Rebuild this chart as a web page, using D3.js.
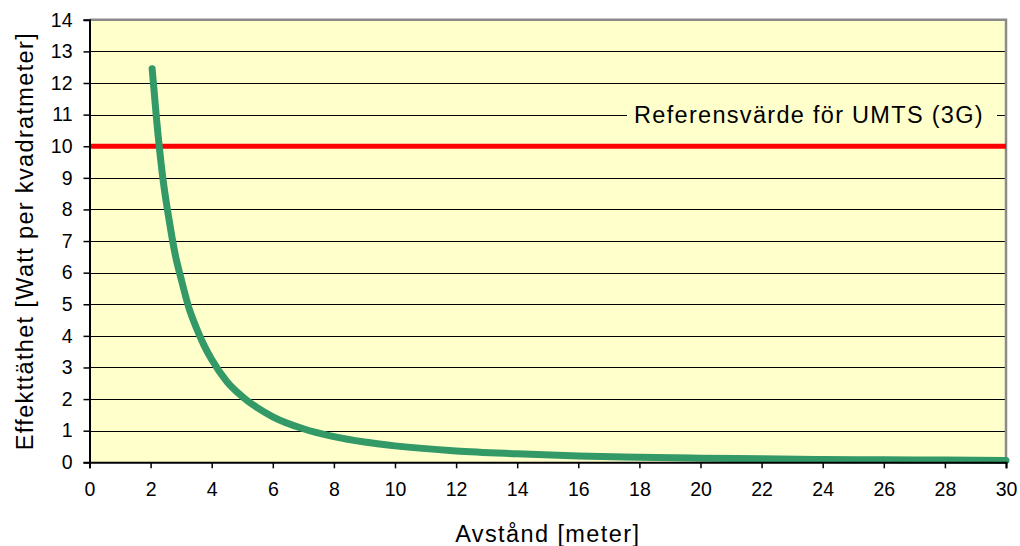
<!DOCTYPE html>
<html>
<head>
<meta charset="utf-8">
<script src="https://cdn.jsdelivr.net/npm/d3@7"></script>
<style>
  html, body { margin: 0; padding: 0; background: #fff; }
  svg text { font-family: "Liberation Sans", Arial, Helvetica, sans-serif; fill: #000; }
</style>
</head>
<body>
<svg id="chart" width="1020" height="546"></svg>
<script>
// Distance from antenna [m]
const distance = [2.05, 2.2, 2.4, 2.6, 2.8, 3.0, 3.25, 3.5, 3.75, 4.0, 4.5, 5.0, 5.5, 6.0, 7.0, 8.0, 9.0, 10, 12, 14, 16, 18, 20, 22, 24, 26, 28, 30];
// Power density [W/m²]
const density = [12.45, 10.8, 9.0, 7.7, 6.6, 5.8, 4.9, 4.25, 3.7, 3.25, 2.55, 2.08, 1.72, 1.44, 1.06, 0.81, 0.64, 0.52, 0.36, 0.27, 0.2, 0.16, 0.13, 0.11, 0.09, 0.08, 0.07, 0.06];
// Reference level for UMTS
const referenceValue = 10;
const referenceLabel = "Referensvärde för UMTS (3G)";
const labelLevel = 11;
const xTicks = d3.range(0, 31, 2);
const yTicks = d3.range(0, 15, 1);
const xTitle = "Avstånd [meter]";
const yTitle = "Effekttäthet [Watt per kvadratmeter]";

const svg = d3.select("#chart");
const plotLeft = 89.5, plotRight = 1006, plotTop = 19.8, plotBottom = 462.3;

const x = d3.scaleLinear().domain([0, 30]).range([plotLeft, plotRight]);
const y = d3.scaleLinear().domain([0, 14]).range([plotBottom, plotTop]);

// plot background
svg.append("rect")
  .attr("x", plotLeft).attr("y", plotTop)
  .attr("width", plotRight - plotLeft).attr("height", plotBottom - plotTop)
  .attr("fill", "#FFFFCC");

// horizontal gridlines
svg.append("g")
  .selectAll("line")
  .data(yTicks.filter(v => v > 0 && v < 14))
  .join("line")
  .attr("x1", plotLeft).attr("x2", plotRight)
  .attr("y1", d => Math.round(y(d)) + 0.5)
  .attr("y2", d => Math.round(y(d)) + 0.5)
  .attr("stroke", "#000").attr("stroke-width", 1);

// top & right frame
svg.append("path")
  .attr("d", `M${plotLeft},${plotTop} H${plotRight} V${plotBottom}`)
  .attr("fill", "none").attr("stroke", "#8a8a8a").attr("stroke-width", 2.5);

// reference level line
svg.append("line")
  .attr("x1", plotLeft).attr("x2", plotRight)
  .attr("y1", y(referenceValue)).attr("y2", y(referenceValue))
  .attr("stroke", "#FF0000").attr("stroke-width", 5);

// reference label with background box over the gridline
const lbl = svg.append("g");
lbl.append("rect")
  .attr("x", 627).attr("y", y(labelLevel) - 14)
  .attr("width", 997 - 627).attr("height", 28)
  .attr("fill", "#FFFFCC");
lbl.append("text")
  .attr("x", 809).attr("y", y(labelLevel) + 8)
  .attr("text-anchor", "middle")
  .style("font-size", "23.5px")
  .style("letter-spacing", "1.3px")
  .text(referenceLabel);

// power density curve
const line = d3.line()
  .x((d, i) => x(distance[i]))
  .y(d => y(d))
  .curve(d3.curveMonotoneX);
svg.append("path")
  .datum(density)
  .attr("d", line)
  .attr("fill", "none")
  .attr("stroke", "#339966")
  .attr("stroke-width", 7)
  .attr("stroke-linecap", "round")
  .attr("stroke-linejoin", "round");

// axes
const xAxis = d3.axisBottom(x).tickValues(xTicks).tickSize(6).tickPadding(14).tickFormat(d3.format("d"));
const yAxis = d3.axisLeft(y).tickValues(yTicks).tickSize(6).tickPadding(11).tickFormat(d3.format("d"));

const gx = svg.append("g").attr("transform", `translate(0,${plotBottom})`).call(xAxis);
const gy = svg.append("g").attr("transform", `translate(${plotLeft},0)`).call(yAxis);
[gx, gy].forEach(g => {
  g.select(".domain").attr("stroke", "#000").attr("stroke-width", 2);
  g.selectAll(".tick line").attr("stroke", "#000").attr("stroke-width", 1.5);
  g.selectAll(".tick text")
    .style("font-family", "'Liberation Sans', Arial, sans-serif")
    .style("font-size", "19.5px").attr("fill", "#000");
});

// axis titles
svg.append("text")
  .attr("x", (plotLeft + plotRight) / 2).attr("y", 542)
  .attr("text-anchor", "middle")
  .style("font-size", "23.5px")
  .style("letter-spacing", "1.4px")
  .text(xTitle);

svg.append("text")
  .attr("transform", `translate(33,${(plotTop + plotBottom) / 2}) rotate(-90)`)
  .attr("text-anchor", "middle")
  .style("font-size", "23.5px")
  .style("letter-spacing", "1.35px")
  .text(yTitle);
</script>
</body>
</html>
